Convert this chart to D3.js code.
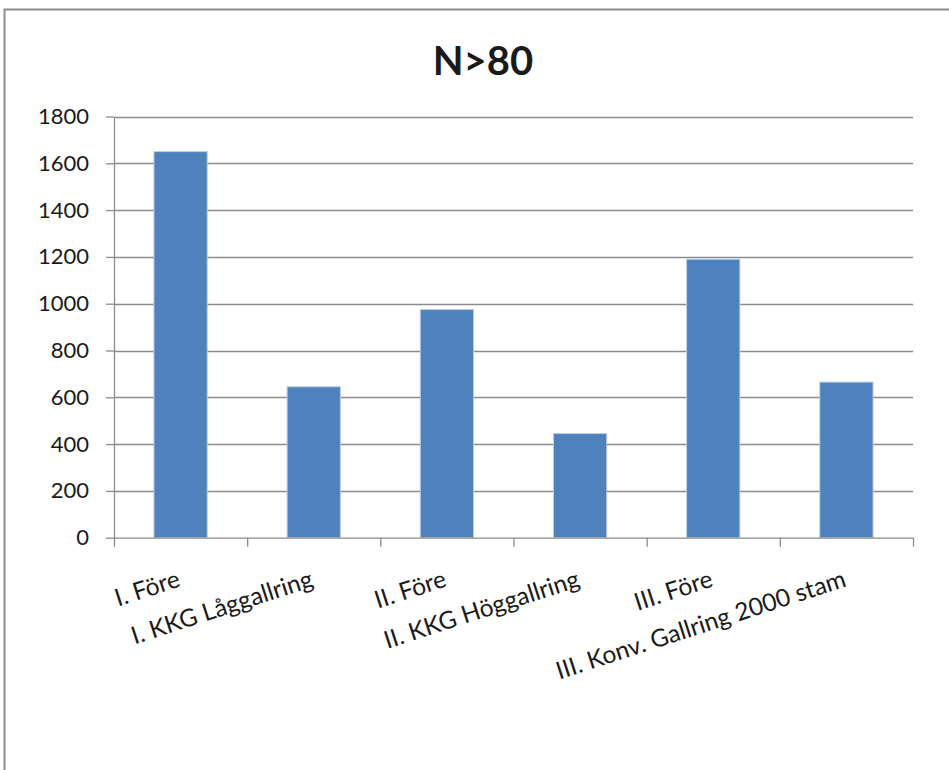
<!DOCTYPE html>
<html>
<head>
<meta charset="utf-8">
<script src="https://cdn.jsdelivr.net/npm/d3@7"></script>
<style>
  html, body { margin: 0; padding: 0; background: #ffffff; }
  svg { display: block; }
  text { font-family: Lato, "Open Sans", "Noto Sans", sans-serif; fill: #1a1a1a; }
</style>
</head>
<body>
<svg id="chart" width="949" height="770"></svg>
<script>
// Stems per hectare above 80 mm, before and after each thinning treatment
const categories = [
  "I. Före",
  "I. KKG Låggallring",
  "II. Före",
  "II. KKG Höggallring",
  "III. Före",
  "III. Konv. Gallring 2000 stam"
];
const values = [1650, 645, 975, 445, 1190, 665];
const yTicks = [0, 200, 400, 600, 800, 1000, 1200, 1400, 1600, 1800];
const title = "N>80";

const svg = d3.select("#chart");

// Chart area frame (runs off the right and bottom edges)
svg.append("rect")
  .attr("x", 4.5).attr("y", 9.5)
  .attr("width", 1000).attr("height", 1000)
  .attr("fill", "#ffffff")
  .attr("stroke", "#8c8c8c")
  .attr("stroke-width", 2);

const plot = { left: 114, right: 913, top: 116.5, bottom: 537.7 };

const y = d3.scaleLinear()
  .domain([0, 1800])
  .range([plot.bottom, plot.top]);

const x = d3.scaleBand()
  .domain(categories)
  .range([plot.left, plot.right])
  .paddingInner(0.6)
  .paddingOuter(0.3);

// category boundaries for the tick marks on the x axis
const xEdge = d3.scaleLinear()
  .domain([0, categories.length])
  .range([plot.left, plot.right]);

// horizontal gridlines
svg.append("g")
  .selectAll("line")
  .data(yTicks.filter(v => v > 0))
  .join("line")
  .attr("x1", plot.left).attr("x2", plot.right)
  .attr("y1", d => Math.round(y(d)) + 0.5)
  .attr("y2", d => Math.round(y(d)) + 0.5)
  .attr("stroke", "#8c8c8c")
  .attr("stroke-width", 1.3);

// bars
svg.append("g")
  .selectAll("rect")
  .data(categories.map((c, i) => ({ c, v: values[i] })))
  .join("rect")
  .attr("x", d => x(d.c))
  .attr("width", x.bandwidth())
  .attr("y", d => y(d.v))
  .attr("height", d => y(0) - y(d.v))
  .attr("fill", "#4f81bd")
  .attr("stroke", "#b9cde6")
  .attr("stroke-width", 1);

// y axis
const yAxis = svg.append("g")
  .attr("transform", `translate(${plot.left},0)`)
  .call(d3.axisLeft(y).tickValues(yTicks).tickFormat(d3.format("d"))
    .tickSize(8).tickSizeOuter(0).tickPadding(17));
yAxis.select(".domain").attr("stroke", "#8c8c8c").attr("stroke-width", 1.3);
yAxis.selectAll(".tick line").attr("stroke", "#8c8c8c").attr("stroke-width", 1.3);
yAxis.selectAll(".tick text")
  .attr("font-size", 22)
  .attr("font-family", "Lato, 'Open Sans', sans-serif")
  .attr("fill", "#1a1a1a");

// x axis line and category tick marks
const xAxis = svg.append("g")
  .attr("transform", `translate(0,${plot.bottom})`)
  .call(d3.axisBottom(xEdge).tickValues(d3.range(categories.length + 1)).tickFormat("").tickSize(9).tickSizeOuter(0));
xAxis.select(".domain").attr("stroke", "#8c8c8c").attr("stroke-width", 1.3);
xAxis.selectAll(".tick line").attr("stroke", "#8c8c8c").attr("stroke-width", 1.3);

// rotated category labels, right end under each bar
const labelY = 586;
svg.append("g")
  .selectAll("text")
  .data(categories)
  .join("text")
  .attr("x", d => x(d) + x.bandwidth() / 2 + 1)
  .attr("y", labelY)
  .attr("text-anchor", "end")
  .attr("font-size", 24.5)
  .attr("transform", d => `rotate(-18, ${x(d) + x.bandwidth() / 2 + 1}, ${labelY})`)
  .text(d => d);

// title
svg.append("text")
  .attr("x", 483)
  .attr("y", 75)
  .attr("text-anchor", "middle")
  .attr("font-size", 40)
  .attr("font-weight", "bold")
  .attr("fill", "#000000")
  .text(title);
</script>
</body>
</html>
